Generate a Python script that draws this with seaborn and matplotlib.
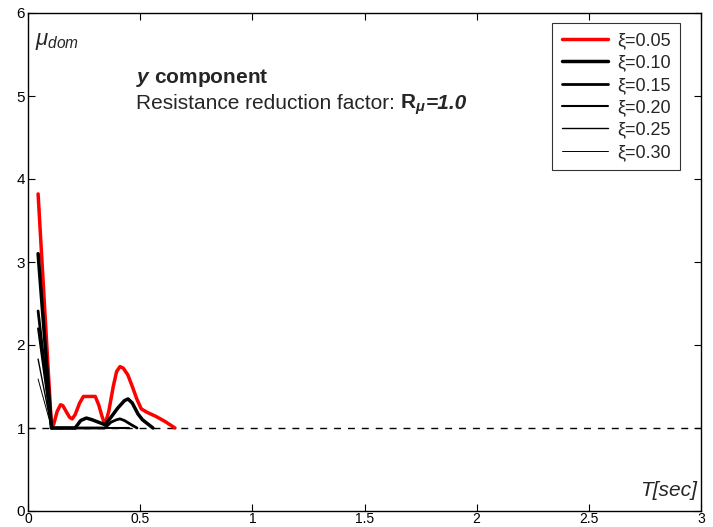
import numpy as np
import pandas as pd
import matplotlib
matplotlib.use("Agg")
import matplotlib.pyplot as plt
import seaborn as sns
from matplotlib.offsetbox import TextArea, HPacker, AnchoredOffsetbox

sns.set_style("ticks")
plt.rcParams['font.family'] = ['Liberation Sans', 'DejaVu Sans']
plt.rcParams['mathtext.fontset'] = 'custom'
plt.rcParams['mathtext.rm'] = 'Liberation Sans'
plt.rcParams['mathtext.it'] = 'Liberation Sans:italic'
plt.rcParams['mathtext.bf'] = 'Liberation Sans:bold'
plt.rcParams['mathtext.bfit'] = 'Liberation Sans:italic:bold'

# data
labels = ["ξ=0.05", "ξ=0.10", "ξ=0.15", "ξ=0.20", "ξ=0.25", "ξ=0.30"]
T_005 = [0.045, 0.105, 0.115, 0.13, 0.145, 0.155, 0.17, 0.185, 0.197, 0.21, 0.23,
         0.247, 0.30, 0.315, 0.33, 0.343, 0.36, 0.38, 0.395, 0.41, 0.425, 0.445,
         0.465, 0.485, 0.505, 0.53, 0.57, 0.61, 0.655]
mu_005 = [3.82, 1.0, 1.05, 1.20, 1.28, 1.27, 1.20, 1.13, 1.11, 1.16, 1.30,
          1.38, 1.38, 1.28, 1.14, 1.04, 1.20, 1.50, 1.68, 1.74, 1.72, 1.64,
          1.50, 1.35, 1.23, 1.19, 1.14, 1.08, 1.0]
T_010 = [0.045, 0.105, 0.21, 0.235, 0.26, 0.285, 0.343, 0.37, 0.40, 0.43, 0.446,
         0.465, 0.49, 0.51, 0.557]
mu_010 = [3.10, 1.0, 1.0, 1.09, 1.12, 1.10, 1.04, 1.13, 1.24, 1.33, 1.35,
          1.30, 1.17, 1.10, 1.0]
T_015 = [0.045, 0.105, 0.343, 0.37, 0.395, 0.41, 0.43, 0.46, 0.486]
mu_015 = [2.41, 1.0, 1.0, 1.07, 1.10, 1.11, 1.09, 1.04, 1.0]
T_020 = [0.045, 0.105, 0.45]
mu_020 = [2.20, 1.0, 1.0]
T_025 = [0.045, 0.105, 0.45]
mu_025 = [1.83, 1.0, 1.0]
T_030 = [0.045, 0.105, 0.45]
mu_030 = [1.59, 1.0, 1.0]
x_ticks = [0, 0.5, 1, 1.5, 2, 2.5, 3]
x_ticklabels = ["0", "0.5", "1", "1.5", "2", "2.5", "3"]
y_ticks = [0, 1, 2, 3, 4, 5, 6]

series = [(T_005, mu_005), (T_010, mu_010), (T_015, mu_015),
          (T_020, mu_020), (T_025, mu_025), (T_030, mu_030)]
colors = ["#ff0000", "black", "black", "black", "black", "black"]
widths = [2.5, 2.5, 2.0, 1.5, 1.0, 0.7]

fig = plt.figure(figsize=(7.13, 5.27), dpi=100)
ax = fig.add_axes([28/713, 16/527, 673/713, 498/527])

ax.axhline(1.0, color="black", lw=1.0, ls=(0, (5, 5)), zorder=1)
for (T, mu), lab, c, w in zip(series, labels, colors, widths):
    df = pd.DataFrame({"T": T, "mu": mu})
    sns.lineplot(data=df, x="T", y="mu", ax=ax, color=c, lw=w, label=lab,
                 sort=False, estimator=None, zorder=3)

ax.set_xlim(0, 3)
ax.set_ylim(0, 6)
ax.set_xticks(x_ticks)
ax.set_xticklabels(x_ticklabels)
ax.set_yticks(y_ticks)
ax.set_xlabel("")
ax.set_ylabel("")
ax.tick_params(direction="in", length=5, width=0.8, top=True, right=True,
               labelsize=11, pad=2, colors="black")
ax.tick_params(axis="x", labelsize=10, pad=0.5)
for s in ax.spines.values():
    s.set_linewidth(1.0)
    s.set_color("black")

ax.text(0.0104, 0.942, r"$\mu_{dom}$", transform=ax.transAxes, fontsize=16,
        va="center", ha="left")
ax.text(0.160, 0.870, r"$\mathbfit{y}$ $\mathbf{component}$", transform=ax.transAxes,
        fontsize=15, va="center", ha="left")

fs = 15
parts = HPacker(children=[
    TextArea("Resistance reduction factor: ", textprops=dict(fontsize=fs)),
    TextArea(r"$\mathbf{R}_{\mathbfit{\mu}}$", textprops=dict(fontsize=fs)),
    TextArea("=1.0", textprops=dict(fontsize=fs, weight="bold", style="italic")),
], align="baseline", pad=0, sep=0)
box = AnchoredOffsetbox(loc="center left", child=parts, frameon=False, pad=0,
                        borderpad=0, bbox_to_anchor=(0.160, 0.816),
                        bbox_transform=ax.transAxes)
ax.add_artist(box)

ax.text(0.994, 0.041, "T[sec]", transform=ax.transAxes, fontsize=15,
        style="italic", ha="right", va="center")

leg = ax.legend(loc="upper right", bbox_to_anchor=(0.969, 0.98), frameon=True,
                fancybox=False, edgecolor="black", fontsize=13,
                handlelength=2.6, labelspacing=0.3, borderpad=0.5,
                handletextpad=0.5, borderaxespad=0.0)
leg.get_frame().set_linewidth(0.8)

fig.savefig("out.png", dpi=100)
